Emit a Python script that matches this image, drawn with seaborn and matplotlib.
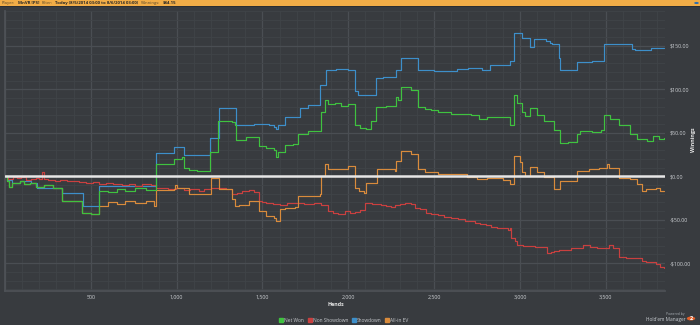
import matplotlib
matplotlib.use("Agg")
import matplotlib.pyplot as plt
from matplotlib.patches import Rectangle, Circle
from matplotlib.ticker import MultipleLocator, FuncFormatter
from matplotlib.lines import Line2D
import seaborn as sns
import pandas as pd

# ---- data: cumulative winnings ($) by hand number ----
net_won_hands = [0, 12, 25, 40, 87, 110, 145, 180, 230, 280, 330, 390, 446, 500, 550, 600, 650, 700, 760,
                 820, 881, 920, 985, 1031, 1045, 1072, 1120, 1194, 1240, 1290, 1321, 1338, 1345, 1380, 1402,
                 1440, 1477, 1520, 1570, 1576, 1590, 1634, 1680, 1709, 1767, 1842, 1866, 1880, 1920, 1960,
                 1999, 2039, 2070, 2103, 2130, 2161, 2220, 2277, 2290, 2306, 2364, 2404, 2445, 2480, 2520,
                 2600, 2650, 2712, 2760, 2810, 2900, 2943, 2967, 2984, 3013, 3030, 3059, 3100, 3140, 3198,
                 3233, 3280, 3332, 3349, 3420, 3470, 3488, 3523, 3575, 3639, 3679, 3740, 3778, 3810, 3840]
net_won = [0, -5, -12, -8, -6, -9, -8, -12, -10, -14, -28.7, -28, -42, -44, -17, -18, -15, -17, -14,
           -16, 14, 14, 19.8, 22, 9, 7, 6, 28, 64, 64, 62, 58.5, 42, 42, 45,
           45, 35, 33, 30, 22, 28, 36, 37, 49, 51.5, 74, 87.6, 83, 84, 81,
           83, 59, 55, 54.7, 64, 80, 81, 91.5, 88, 103, 99, 80, 77, 76, 74,
           72, 71, 70, 66, 68, 68.6, 59, 93, 84, 74, 69, 78, 70, 64, 53,
           38, 39, 48.8, 52, 51, 53, 70, 66, 58.5, 48.8, 43, 41, 46, 43, 44.15]

non_sd_hands = [0, 20, 45, 70, 95, 120, 150, 180, 200, 215, 225, 250, 290, 320, 360, 400, 430, 470, 510,
                550, 590, 630, 680, 720, 760, 800, 850, 881, 920, 950, 996, 1040, 1080, 1130, 1160, 1199,
                1250, 1290, 1321, 1350, 1379, 1420, 1450, 1477, 1500, 1520, 1560, 1600, 1640, 1692, 1740,
                1800, 1840, 1883, 1910, 1940, 1981, 2010, 2040, 2070, 2097, 2140, 2190, 2220, 2248, 2270,
                2300, 2330, 2364, 2390, 2416, 2450, 2480, 2520, 2560, 2596, 2640, 2680, 2712, 2740, 2770,
                2800, 2830, 2868, 2900, 2930, 2943, 2950, 2970, 2984, 3020, 3050, 3090, 3140, 3158, 3180,
                3200, 3230, 3256, 3300, 3332, 3370, 3407, 3450, 3490, 3517, 3540, 3575, 3620, 3679, 3710,
                3737, 3790, 3813, 3840]
non_showdown = [0, -3, -1, -2, -1, -4, -3, -2, -3, 4.6, -3, -4, -5, -4, -6, -5, -7, -8, -7,
                -9, -8, -9, -10, -9, -11, -9, -10, -13, -14, -15, -14, -16, -15, -17, -15, -14,
                -13, -15, -21, -19, -17, -16, -18, -28, -30, -31, -32, -33, -31, -30.6, -32,
                -31, -33, -40, -42, -43, -40, -42, -41, -39, -30.6, -32, -32.6, -34, -35, -33,
                -32, -31, -32, -36, -38, -42, -44, -45, -47, -48, -49, -51, -52, -54, -55,
                -56, -58, -60, -60, -61.6, -59, -71, -75, -79, -80, -80, -81, -81, -88.7, -87,
                -86, -85, -85, -83, -82, -79, -81, -83, -82, -79, -83, -92.7, -94, -94.6, -97,
                -98.5, -101, -104, -105]

sd_hands = [0, 15, 40, 90, 150, 185, 330, 452, 550, 881, 985, 1043, 1194, 1246, 1300, 1344, 1450, 1540,
            1570, 1580, 1590, 1634, 1721, 1767, 1837, 1871, 1930, 2000, 2039, 2057, 2161, 2200, 2277, 2306,
            2404, 2500, 2636, 2700, 2752, 2780, 2827, 2943, 2967, 3013, 3059, 3082, 3150, 3175, 3187,
            3227, 3233, 3332, 3418, 3488, 3650, 3668, 3766, 3840]
showdown = [0, -4, -8, -6, -8, -14, -19, -34.5, -11, 27, 34, 24, 44, 78, 79, 59, 60, 59,
            57, 54, 59, 68.6, 79, 81.4, 105, 122, 123, 122, 97.7, 93, 113, 114, 122, 136,
            122, 121, 123, 124, 125, 122, 128, 133, 165, 159, 149, 157.7, 156, 153, 151.5,
            136, 122, 131, 133, 151.5, 146, 144.6, 148, 148]

ev_hands = [0, 12, 25, 40, 87, 110, 145, 180, 230, 280, 330, 390, 446, 500, 550, 600, 650, 700, 760, 820,
            870, 881, 985, 990, 1000, 1054, 1072, 1199, 1246, 1321, 1340, 1362, 1420, 1477, 1520, 1570,
            1576, 1600, 1634, 1690, 1709, 1837, 1842, 1866, 1883, 1981, 2000, 2039, 2060, 2090, 2103,
            2167, 2240, 2271, 2277, 2306, 2364, 2404, 2445, 2520, 2600, 2694, 2750, 2810, 2900, 2943,
            2967, 3001, 3013, 3030, 3059, 3100, 3140, 3198, 3233, 3290, 3332, 3400, 3460, 3505, 3520,
            3575, 3639, 3679, 3710, 3737, 3790, 3813, 3840]
allin_ev = [0, -5, -12, -8, -6, -9, -8, -12, -10, -14, -28.7, -28, -42, -44, -34.5, -30, -32, -28, -31, -29,
            -34, -16, -15, -10, -13, -13, -20, -1.5, -14.3, -26.7, -34.5, -32.6, -28.7, -40, -46, -48,
            -52, -38, -36, -35, -23, -21, 0.4, 14, 8, 8, 12, -13, -17, -19, -7.3,
            8, 8, 6, 17.8, 29.4, 25.6, 8, 5, 3, 2, -1, -3, -2, -4, -9.3,
            23.6, 16, 4.6, 0.4, 10.5, 5, -1, -15, -5.5, -6, 6, 8, 10, 14, 10,
            -1.5, -3.5, -9.3, -17, -15, -14, -17, -17]

series_names = ["Net Won", "Non Showdown", "Showdown", "All-in EV"]
series_colors = ["#3fc23f", "#c9403f", "#3d8fca", "#d98b3c"]

frames = []
for name, h, v in [("Net Won", net_won_hands, net_won),
                   ("Non Showdown", non_sd_hands, non_showdown),
                   ("Showdown", sd_hands, showdown),
                   ("All-in EV", ev_hands, allin_ev)]:
    frames.append(pd.DataFrame({"Hands": h, "Winnings": v, "Series": name}))
df = pd.concat(frames, ignore_index=True)

# ---- styling ----
BG = "#383b3f"
sns.set_theme(style="dark", rc={"axes.facecolor": BG, "figure.facecolor": BG})
plt.rcParams["font.family"] = ["Open Sans", "DejaVu Sans"]

fig = plt.figure(figsize=(7.0, 3.25), dpi=100)
ax = fig.add_axes([5 / 700, 1 - 291 / 325, 660 / 700, 280 / 325])
ax.set_facecolor(BG)

order = ["Showdown", "Non Showdown", "All-in EV", "Net Won"]
palette = dict(zip(series_names, series_colors))
for name in order:
    sub = df[df["Series"] == name]
    sns.lineplot(data=sub, x="Hands", y="Winnings", color=palette[name], ax=ax,
                 drawstyle="steps-post", linewidth=0.85, estimator=None, sort=False,
                 legend=False, zorder=3)

ax.axhline(0, color="#e6e6e6", linewidth=1.8, zorder=4)

ax.set_xlim(0, 3845)
ax.set_ylim(-132, 190)

ax.xaxis.set_major_locator(MultipleLocator(500))
ax.xaxis.set_minor_locator(MultipleLocator(100))
ax.yaxis.set_major_locator(MultipleLocator(50))
ax.yaxis.set_minor_locator(MultipleLocator(10))
ax.grid(which="major", color="#4a4e53", linewidth=0.9, zorder=0)
ax.grid(which="minor", color="#404448", linewidth=0.6, zorder=0)
ax.set_axisbelow(True)

ax.xaxis.set_major_formatter(FuncFormatter(lambda v, p: "" if v <= 0 else f"{int(v):,}"))
ax.yaxis.set_major_formatter(FuncFormatter(
    lambda v, p: (f"${v:,.2f}" if v >= 0 else f"-${-v:,.2f}")))
ax.yaxis.tick_right()
ax.tick_params(axis="both", which="both", length=0, labelsize=3.8, colors="#cfd2d6")
ax.tick_params(axis="x", pad=3)
ax.tick_params(axis="y", pad=3.5)

for s in ax.spines.values():
    s.set_visible(False)
ax.spines["left"].set_visible(True)
ax.spines["left"].set_color("#4e5257")
ax.spines["bottom"].set_visible(True)
ax.spines["bottom"].set_color("#4e5257")

ax.set_xlabel("")
ax.set_ylabel("")
fig.text(336 / 700, 1 - 304 / 325, "Hands", fontsize=3.8, color="#e8e8e8",
         fontweight="bold", ha="center", va="center")
fig.text(693 / 700, 1 - 140 / 325, "Winnings", fontsize=3.8, color="#e8e8e8",
         fontweight="bold", ha="center", va="center", rotation=90)

# legend along the bottom
handles = [Line2D([], [], marker="s", linestyle="", markersize=2.2,
                  markerfacecolor=c, markeredgecolor=c) for c in series_colors]
fig.legend(handles, series_names, loc="center", bbox_to_anchor=(344 / 700, 1 - 320 / 325),
           ncol=4, frameon=False, fontsize=3.5, labelcolor="#c6c9cd",
           handletextpad=0.3, columnspacing=0.8, handlelength=0.7, borderpad=0)

# header bar
fig.patches.append(Rectangle((0, 1 - 6 / 325), 1, 6 / 325, transform=fig.transFigure,
                             facecolor="#f2ad47", edgecolor="none", zorder=5))
fig.patches.append(Rectangle((0, 1 - 7 / 325), 1, 1 / 325, transform=fig.transFigure,
                             facecolor="#2c2e31", edgecolor="none", zorder=5))
hdr_y = 1 - 3 / 325
parts = [("Player:", False), ("MnVR [PS]", True), ("Filter:", False),
         ("Today (8/5/2014 03:00 to 8/6/2014 03:00)", True), ("Winnings:", False), ("$44.15", True)]
x = 2 / 700
renderer = fig.canvas.get_renderer()
for txt, bold in parts:
    t = fig.text(x, hdr_y, txt, fontsize=3.1, color="#262626" if bold else "#5c4a2c",
                 fontweight="bold" if bold else "normal", ha="left", va="center", zorder=6)
    bb = t.get_window_extent(renderer=renderer)
    x += (bb.width + 2.5) / 700

fig.patches.append(Circle((696.5 / 700, 1 - 3 / 325), 2.3 / 700, transform=fig.transFigure,
                          facecolor="#2f6fb0", edgecolor="none", zorder=6))

# footer branding
fig.text(685 / 700, 1 - 313.5 / 325, "Powered by", fontsize=2.4, color="#aab0b6",
         ha="right", va="center")
fig.text(686 / 700, 1 - 319.5 / 325, "Hold'em Manager", fontsize=3.4, color="#c9ced3",
         ha="right", va="center")
fig.patches.append(Circle((691 / 700, 1 - 318.5 / 325), 4.2 / 700, transform=fig.transFigure,
                          facecolor="#e0602a", edgecolor="none", zorder=6))
fig.text(691 / 700, 1 - 318.5 / 325, "2", fontsize=4, color="white", fontweight="bold",
         ha="center", va="center", zorder=7)

fig.savefig("out.png", dpi=100, facecolor=BG)
